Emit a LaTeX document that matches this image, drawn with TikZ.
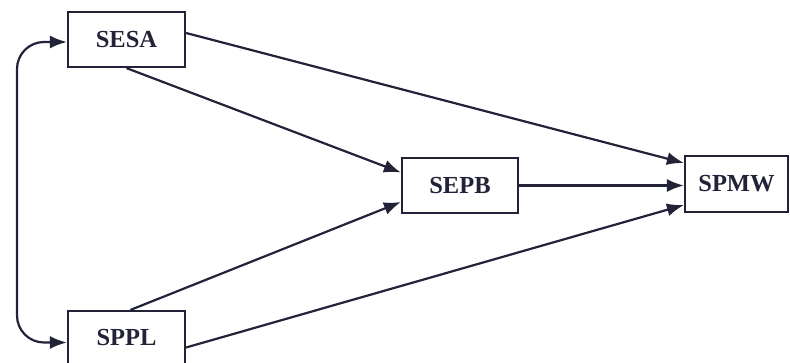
\documentclass[tikz,border=0pt]{standalone}
\usepackage{fontspec}
\setmainfont{Liberation Serif}
\usetikzlibrary{arrows.meta}
\definecolor{ink}{RGB}{34,34,56}
\begin{document}
\begin{tikzpicture}[x=1pt,y=-1pt,
  box/.style={draw=ink,line width=2.2pt,rectangle,inner sep=0pt,
    font=\fontsize{24.5}{28}\selectfont\bfseries,text=ink},
  tip/.style={Latex[length=17pt,width=13pt]},
  arr/.style={draw=ink,line width=2.2pt,-{Latex[length=17pt,width=13pt]}}]
\useasboundingbox (0,0) rectangle (790,362);
\node[box,minimum width=117pt,minimum height=55pt] (SESA) at (126.5,39.5) {SESA};
\node[box,minimum width=117pt,minimum height=53pt] (SPPL) at (126.5,337.5) {SPPL};
\node[box,minimum width=116pt,minimum height=55pt] (SEPB) at (460,185.5) {SEPB};
\node[box,minimum width=103pt,minimum height=56pt] (SPMW) at (736.5,184) {SPMW};
\coordinate (L) at (17,190);
\draw[arr] ([yshift=6.5pt]SESA.east) -- ([yshift=21pt]SPMW.west);
\draw[arr] (SESA.south) -- ([yshift=13pt]SEPB.west);
\draw[arr] ([xshift=4pt]SPPL.north) -- ([yshift=-16.5pt]SEPB.west);
\draw[arr] ([yshift=-10pt]SPPL.east) -- ([yshift=-21pt]SPMW.west);
\draw[arr] (SEPB.east) -- (SPMW.west |- SEPB.east);
\draw[draw=ink,line width=2.2pt,{Latex[length=17pt,width=13pt]}-{Latex[length=17pt,width=13pt]},rounded corners=27pt]
  ([yshift=-2.5pt]SESA.west) -| (L) |- ([yshift=-5pt]SPPL.west);
\end{tikzpicture}
\end{document}
